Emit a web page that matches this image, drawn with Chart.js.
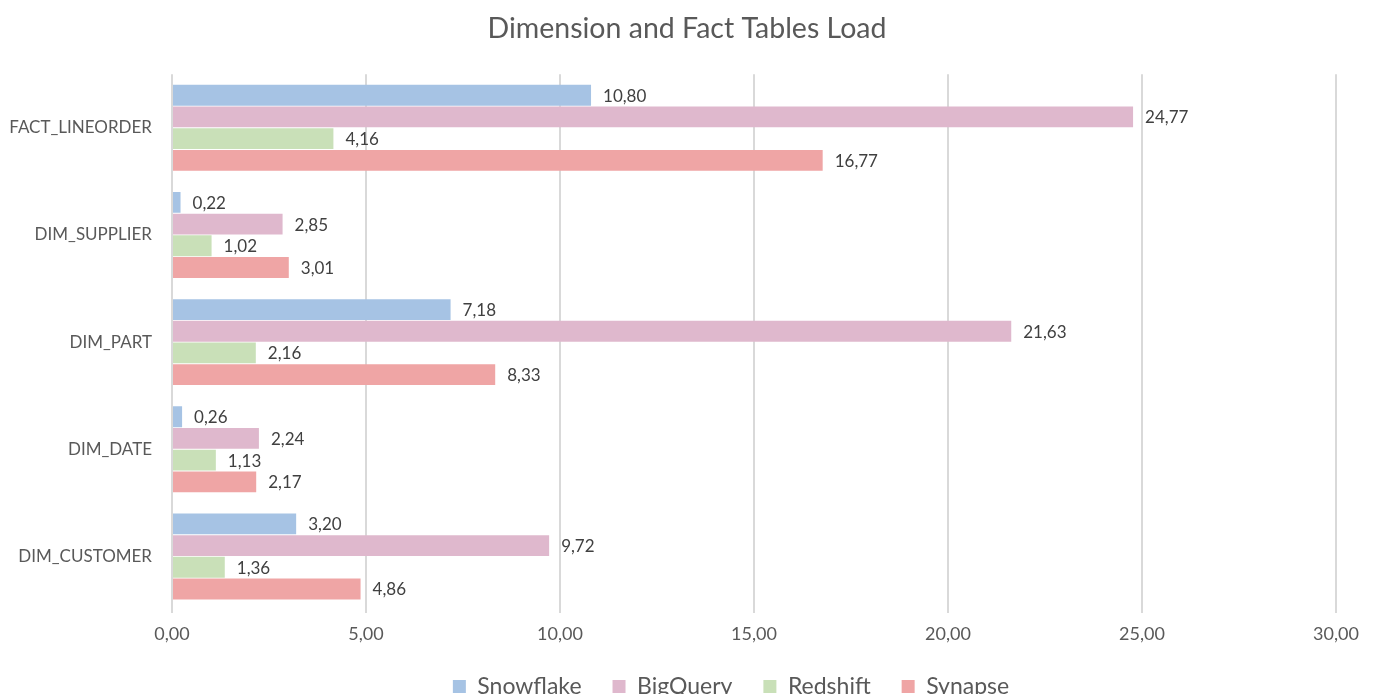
<!DOCTYPE html>
<html>
<head>
<meta charset="utf-8">
<script src="https://cdn.jsdelivr.net/npm/chart.js@4"></script>
<style>
  html, body { margin: 0; padding: 0; background: #fff; }
  #wrap { width: 1374px; height: 698px; }
</style>
</head>
<body>
<div id="wrap"><canvas id="myChart" width="1374" height="698"></canvas></div>
<script>
const categories = ['FACT_LINEORDER', 'DIM_SUPPLIER', 'DIM_PART', 'DIM_DATE', 'DIM_CUSTOMER'];
const snowflake = [10.80, 0.22, 7.18, 0.26, 3.20];
const bigquery = [24.77, 2.85, 21.63, 2.24, 9.72];
const redshift = [4.16, 1.02, 2.16, 1.13, 1.36];
const synapse = [16.77, 3.01, 8.33, 2.17, 4.86];
const xTicks = [0, 5, 10, 15, 20, 25, 30];

const fontFamily = "Lato, 'Open Sans', sans-serif";
const textColor = '#595959';

function fmt(v) {
    return v.toFixed(2).replace('.', ',');
}

// draws the value at the end of each bar
const valueLabels = {
    id: 'valueLabels',
    afterDatasetsDraw(chart) {
        const ctx = chart.ctx;
        ctx.save();
        ctx.font = "17px " + fontFamily;
        ctx.fillStyle = '#404040';
        ctx.textBaseline = 'middle';
        ctx.textAlign = 'left';
        chart.data.datasets.forEach((ds, i) => {
            const meta = chart.getDatasetMeta(i);
            meta.data.forEach((bar, j) => {
                ctx.fillText(fmt(ds.data[j]), bar.x + 12, bar.y + 1);
            });
        });
        ctx.restore();
    }
};

// title and legend in the original sit right of where chart.js centres them
const shiftBoxes = {
    id: 'shiftBoxes',
    afterLayout(chart) {
        chart.legend.left += 58;
        chart.legend.right += 58;
        chart.legend.top -= 4;
        chart.legend.bottom -= 4;
        chart.titleBlock.left += 14;
        chart.titleBlock.right += 14;
    }
};

const ctx = document.getElementById('myChart').getContext('2d');
const myChart = new Chart(ctx, {
    type: 'bar',
    data: {
        labels: categories,
        datasets: [
            { label: 'Snowflake', data: snowflake, backgroundColor: '#a6c3e4' },
            { label: 'BigQuery', data: bigquery, backgroundColor: '#dfb8cd' },
            { label: 'Redshift', data: redshift, backgroundColor: '#c9e0b8' },
            { label: 'Synapse', data: synapse, backgroundColor: '#efa5a5' }
        ]
    },
    options: {
        indexAxis: 'y',
        responsive: false,
        animation: false,
        layout: { padding: { left: 10, right: 38, top: 8, bottom: 0 } },
        datasets: {
            bar: { categoryPercentage: 0.81, barPercentage: 0.96 }
        },
        scales: {
            x: {
                min: 0,
                max: 30,
                afterBuildTicks(scale) {
                    scale.ticks = xTicks.map(v => ({ value: v }));
                },
                afterFit(scale) { scale.height = 38; },
                ticks: {
                    color: textColor,
                    font: { family: fontFamily, size: 18 },
                    padding: 10,
                    callback: v => fmt(v)
                },
                grid: { color: '#d9d9d9', lineWidth: 2, drawTicks: true, tickLength: 3 },
                border: { display: false }
            },
            y: {
                afterFit(scale) { scale.width = 162; },
                ticks: {
                    color: textColor,
                    font: { family: fontFamily, size: 17 },
                    padding: 20
                },
                grid: { display: false, drawTicks: false },
                border: { display: false }
            }
        },
        plugins: {
            title: {
                display: true,
                text: 'Dimension and Fact Tables Load',
                color: textColor,
                font: { family: fontFamily, size: 28.5, weight: 'normal' },
                padding: { top: 4, bottom: 28 }
            },
            legend: {
                position: 'bottom',
                labels: {
                    color: textColor,
                    font: { family: fontFamily, size: 23 },
                    boxWidth: 13,
                    boxHeight: 13,
                    padding: 31
                }
            },
            tooltip: { enabled: false }
        }
    },
    plugins: [valueLabels, shiftBoxes]
});

// keep the legend low, close to the bottom edge
const legendFit = myChart.legend.fit;
myChart.legend.fit = function () {
    legendFit.call(this);
    this.height = 50;
};
myChart.update();
</script>
</body>
</html>
